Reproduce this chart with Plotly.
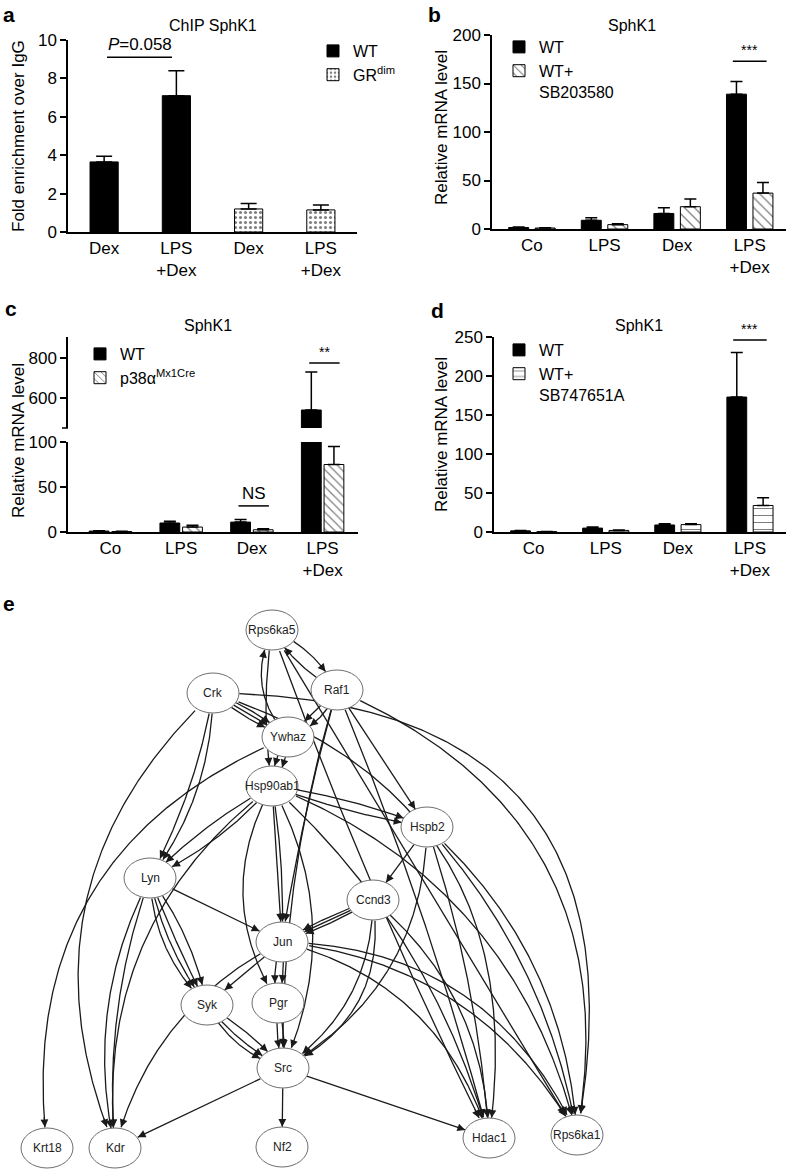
import numpy as np
import plotly.graph_objects as go

W, H = 788, 1169
FONT = "Liberation Sans, Arial, sans-serif"

# ---- panel a: ChIP SphK1 ----
a_labels = ["Dex", "LPS<br>+Dex", "Dex", "LPS<br>+Dex"]
a_wt = [3.65, 7.1]
a_wt_err = [0.3, 1.3]
a_grdim = [1.2, 1.15]
a_grdim_err = [0.28, 0.25]

# ---- panels b-d: SphK1 mRNA ----
conds = ["Co", "LPS", "Dex", "LPS<br>+Dex"]
b_wt = [1.5, 9, 16, 139]
b_wt_err = [0.5, 2.5, 6, 13]
b_sb = [1, 4.5, 23, 37]
b_sb_err = [0.3, 0.8, 8, 11]

c_wt = [1, 10, 11, 540]
c_wt_err = [0.4, 2, 3, 190]
c_p38 = [0.5, 5.5, 2.5, 75]
c_p38_err = [0.3, 2, 1, 20]

d_wt = [1.5, 5, 9, 173]
d_wt_err = [0.5, 1.5, 1.5, 57]
d_sb = [0.5, 2, 9.5, 34]
d_sb_err = [0.2, 0.5, 1, 10]

# ---- panel e: network ----
nodes = ["Rps6ka5", "Crk", "Raf1", "Ywhaz", "Hsp90ab1", "Hspb2", "Lyn", "Ccnd3",
         "Jun", "Syk", "Pgr", "Src", "Krt18", "Kdr", "Nf2", "Hdac1", "Rps6ka1"]
node_x = [272, 213, 337, 288, 272, 427, 150, 373, 282, 207, 278, 283, 47, 115, 282, 489, 577]
node_y = [630, 693, 690, 737, 786, 827, 878, 900, 942, 1005, 1003, 1068, 1148, 1148, 1147, 1138, 1135]
edges = [
    ("Crk", "Ywhaz", 0), ("Crk", "Ywhaz", 4), ("Crk", "Ywhaz", -4),
    ("Crk", "Lyn", 8), ("Crk", "Lyn", 16), ("Crk", "Kdr", -80),
    ("Crk", "Rps6ka1", 170), ("Crk", "Hdac1", 110),
    ("Ywhaz", "Rps6ka5", 18), ("Ywhaz", "Krt18", -90),
    ("Ywhaz", "Hsp90ab1", 4), ("Ywhaz", "Hsp90ab1", -4),
    ("Rps6ka5", "Hsp90ab1", -6), ("Raf1", "Rps6ka5", 6), ("Rps6ka5", "Raf1", 8),
    ("Raf1", "Ywhaz", 0), ("Raf1", "Ywhaz", 8), ("Raf1", "Rps6ka1", 100),
    ("Raf1", "Hspb2", 0), ("Raf1", "Jun", -4), ("Raf1", "Src", -15), ("Raf1", "Hdac1", 8),
    ("Rps6ka5", "Hdac1", -8), ("Rps6ka5", "Rps6ka1", 0),
    ("Hsp90ab1", "Lyn", 8), ("Hsp90ab1", "Lyn", -6), ("Hsp90ab1", "Kdr", -55),
    ("Hsp90ab1", "Hspb2", 5), ("Hsp90ab1", "Hspb2", -4),
    ("Hsp90ab1", "Hdac1", 30), ("Hsp90ab1", "Rps6ka1", 60),
    ("Hsp90ab1", "Jun", 0), ("Hsp90ab1", "Jun", 4),
    ("Hsp90ab1", "Pgr", -32), ("Hsp90ab1", "Src", 35),
    ("Hspb2", "Ccnd3", 0), ("Hspb2", "Src", 40), ("Hspb2", "Hdac1", 10),
    ("Hspb2", "Rps6ka1", 25), ("Hspb2", "Rps6ka1", 35),
    ("Lyn", "Jun", 0), ("Lyn", "Syk", -14), ("Lyn", "Syk", -8), ("Lyn", "Syk", -2),
    ("Lyn", "Syk", 8), ("Lyn", "Kdr", -15), ("Lyn", "Kdr", -25),
    ("Ccnd3", "Jun", 0), ("Ccnd3", "Jun", 3), ("Ccnd3", "Jun", -3),
    ("Ccnd3", "Src", 25), ("Ccnd3", "Src", 35), ("Ccnd3", "Hdac1", 30),
    ("Jun", "Syk", 0), ("Jun", "Pgr", -5), ("Jun", "Pgr", 3), ("Jun", "Kdr", -30),
    ("Jun", "Hdac1", 40), ("Jun", "Rps6ka1", 45), ("Jun", "Rps6ka1", 55),
    ("Syk", "Src", -10), ("Syk", "Src", -5), ("Syk", "Src", 4),
    ("Pgr", "Src", 3), ("Pgr", "Src", -3),
    ("Src", "Kdr", 0), ("Src", "Nf2", 0), ("Src", "Hdac1", 0),
]


def px(v):
    return v / W


def py(v):
    return 1 - v / H


tick_font = dict(family=FONT, size=17, color="black")


def xax(left, right, rng, labels, anchor):
    return dict(domain=[px(left), px(right)], range=rng, anchor=anchor,
                tickvals=list(range(len(labels))), ticktext=labels,
                showline=True, linecolor="black", linewidth=1.5,
                ticks="", showgrid=False, zeroline=False, tickfont=tick_font, fixedrange=True)


def yax(top, bottom, rng, anchor, **kw):
    d = dict(domain=[py(bottom), py(top)], range=rng, anchor=anchor,
             showline=True, linecolor="black", linewidth=1.5,
             ticks="outside", ticklen=6, tickwidth=1.5, tickcolor="black",
             showgrid=False, zeroline=False, tickfont=tick_font, fixedrange=True)
    d.update(kw)
    return d


def err(vals, w=6):
    return dict(type="data", symmetric=False, array=vals, arrayminus=[0] * len(vals),
                color="black", thickness=1.5, width=w)


fig = go.Figure()
solid = dict(color="black", line=dict(color="black", width=1))


def patt(shape, size, sol):
    return dict(color="white", line=dict(color="black", width=1),
                pattern=dict(shape=shape, fgcolor="black", bgcolor="white",
                             size=size, solidity=sol, fillmode="overlay"))


# panel a
fig.add_trace(go.Bar(x=[0, 1], y=a_wt, width=0.39, offset=-0.195, marker=solid,
                     error_y=err(a_wt_err, 8), name="WT",
                     xaxis="x", yaxis="y", legend="legend"))
fig.add_trace(go.Bar(x=[2, 3], y=a_grdim, width=0.39, offset=-0.195, marker=patt(".", 5, 0.3),
                     error_y=err(a_grdim_err, 8), name="GR<sup>dim</sup>",
                     xaxis="x", yaxis="y", legend="legend"))

# grouped panels b, c, d
bw, gap = 0.275, 0.09
off_wt = -bw - gap / 2
off_tr = gap / 2
ctr_wt = off_wt + bw / 2
ctr_tr = off_tr + bw / 2
xs = list(range(4))

fig.add_trace(go.Bar(x=xs, y=b_wt, width=bw, offset=off_wt, marker=solid, error_y=err(b_wt_err),
                     name="WT", xaxis="x2", yaxis="y2", legend="legend2"))
fig.add_trace(go.Bar(x=xs, y=b_sb, width=bw, offset=off_tr, marker=patt("\\", 7, 0.18),
                     error_y=err(b_sb_err), name="WT+<br>SB203580",
                     xaxis="x2", yaxis="y2", legend="legend2"))

cw, cgap = 0.28, 0.04
fig.add_trace(go.Bar(x=xs, y=c_wt, width=cw, offset=-cw - cgap / 2, marker=solid,
                     error_y=err(c_wt_err), name="WT", xaxis="x3", yaxis="y3", legend="legend3"))
fig.add_trace(go.Bar(x=xs, y=c_p38, width=cw, offset=cgap / 2, marker=patt("\\", 6, 0.2),
                     error_y=err(c_p38_err), name="p38α<sup>Mx1Cre</sup>",
                     xaxis="x3", yaxis="y3", legend="legend3"))
fig.add_trace(go.Bar(x=xs, y=c_wt, width=cw, offset=-cw - cgap / 2, marker=solid,
                     error_y=err(c_wt_err), showlegend=False, xaxis="x3", yaxis="y6"))

fig.add_trace(go.Bar(x=xs, y=d_wt, width=bw, offset=off_wt, marker=solid, error_y=err(d_wt_err),
                     name="WT", xaxis="x4", yaxis="y4", legend="legend4"))
fig.add_trace(go.Bar(x=xs, y=d_sb, width=bw, offset=off_tr, marker=patt("-", 7, 0.15),
                     error_y=err(d_sb_err), name="WT+<br>SB747651A",
                     xaxis="x4", yaxis="y4", legend="legend4"))

# ---- network edges ----
pos = {n: np.array([x, y], float) for n, x, y in zip(nodes, node_x, node_y)}
RX, RY = 26, 20


def inside(p, c):
    return ((p[0] - c[0]) / RX) ** 2 + ((p[1] - c[1]) / RY) ** 2 < 1


ex, ey, arrows = [], [], []
for s, t, bend in edges:
    p0, p2 = pos[s], pos[t]
    d = p2 - p0
    nv = np.array([d[1], -d[0]]) / np.hypot(*d)
    c = (p0 + p2) / 2 + 2 * bend * nv
    tt = np.linspace(0, 1, 200)[:, None]
    pts = (1 - tt) ** 2 * p0 + 2 * (1 - tt) * tt * c + tt ** 2 * p2
    keep = [i for i, p in enumerate(pts) if not inside(p, p0) and not inside(p, p2)]
    seg = pts[keep[0]:keep[-1] + 1]
    ex += list(seg[:, 0]) + [None]
    ey += list(seg[:, 1]) + [None]
    tip = seg[-1]
    dist = np.hypot(*(seg - tip).T)
    j = np.where(dist >= 9)[0][-1]
    arrows.append((tip, seg[j]))

fig.add_trace(go.Scatter(x=ex, y=ey, mode="lines", line=dict(color="#1a1a1a", width=1.3),
                         hoverinfo="skip", showlegend=False, xaxis="x5", yaxis="y5"))

shapes, annots = [], []
for tip, tail in arrows:
    annots.append(dict(x=tip[0], y=tip[1], ax=tail[0], ay=tail[1], xref="x5", yref="y5",
                       axref="x5", ayref="y5", text="", showarrow=True, arrowhead=2,
                       arrowsize=1.3, arrowwidth=1.2, arrowcolor="#1a1a1a", standoff=0))
for n in nodes:
    cx, cy = pos[n]
    shapes.append(dict(type="circle", xref="x5", yref="y5", x0=cx - RX, x1=cx + RX,
                       y0=cy - RY, y1=cy + RY, fillcolor="white",
                       line=dict(color="#6e6e6e", width=1)))
    annots.append(dict(x=cx, y=cy, xref="x5", yref="y5", text=n, showarrow=False,
                       font=dict(family="Liberation Sans Narrow, Liberation Sans, Arial",
                                 size=12, color="#222")))

# broken-axis marker at the bottom of the upper segment of c
shapes.append(dict(type="line", xref="paper", yref="paper", x0=px(62), x1=px(68),
                   y0=py(428), y1=py(428), line=dict(color="black", width=1.5)))


# ---- significance marks ----
def bracket(xref, yref, x0, x1, y, label, size=14):
    shapes.append(dict(type="line", xref=xref, yref=yref, x0=x0, x1=x1, y0=y, y1=y,
                       line=dict(color="black", width=1.5)))
    annots.append(dict(x=(x0 + x1) / 2, y=y, xref=xref, yref=yref, text=label,
                       showarrow=False, xanchor="center", yanchor="bottom", yshift=1,
                       font=dict(family=FONT, size=size, color="black")))


bracket("x", "y", 0.04, 0.94, 9.1, "<i>P</i>=0.058", size=17)
bracket("x2", "y2", 3 + ctr_wt - 0.05, 3 + ctr_tr + 0.05, 173, "***")
bracket("x3", "y6", 3 - cw / 2 - 0.05, 3 + cw / 2 + 0.1, 775, "**")
bracket("x3", "y3", 2 - cw / 2 - 0.05, 2 + cw / 2 + 0.1, 29, "NS", size=17)
bracket("x4", "y4", 3 + ctr_wt - 0.05, 3 + ctr_tr + 0.05, 246, "***")

# titles, axis titles, panel letters
for x, y, t in [(213, 25, "ChIP SphK1"), (632, 25, "SphK1"), (208, 325, "SphK1"), (639, 325, "SphK1")]:
    annots.append(dict(x=px(x), y=py(y), xref="paper", yref="paper", text=t, showarrow=False,
                       xanchor="center", yanchor="middle",
                       font=dict(family=FONT, size=16, color="black")))
for x, y, t in [(18, 136, "Fold enrichment over IgG"), (441, 128, "Relative mRNA level"),
                (18, 441, "Relative mRNA level"), (441, 435, "Relative mRNA level")]:
    annots.append(dict(x=px(x), y=py(y), xref="paper", yref="paper", text=t, showarrow=False,
                       textangle=-90, xanchor="center", yanchor="middle",
                       font=dict(family=FONT, size=17, color="black")))
for x, y, t in [(9, 15, "a"), (435, 15, "b"), (11, 308, "c"), (437, 310, "d"), (9, 603, "e")]:
    annots.append(dict(x=px(x), y=py(y), xref="paper", yref="paper", text="<b>%s</b>" % t,
                       showarrow=False, xanchor="center", yanchor="middle",
                       font=dict(family=FONT, size=21, color="black")))

leg = dict(font=dict(family=FONT, size=16, color="black"), bgcolor="rgba(0,0,0,0)",
           xanchor="left", yanchor="top", tracegroupgap=0, valign="top", itemclick=False)

fig.update_layout(
    width=W, height=H, autosize=False, template="none",
    margin=dict(l=0, r=0, t=0, b=0), paper_bgcolor="white", plot_bgcolor="white",
    barmode="overlay", showlegend=True,
    xaxis=xax(68, 357, [-0.5, 3.5], a_labels, "y"),
    yaxis=yax(40, 232, [0, 10], "x", dtick=2),
    xaxis2=xax(492, 786, [-0.55, 3.5], conds, "y2"),
    yaxis2=yax(35, 229, [0, 200], "x2", dtick=50),
    xaxis3=xax(68, 358, [-0.6, 3.5], conds, "y3"),
    yaxis3=yax(442, 532, [0, 100], "x3", dtick=50),
    yaxis6=yax(337, 428, [450, 905], "x3", tickvals=[600, 800]),
    xaxis4=xax(494, 786, [-0.55, 3.5], conds, "y4"),
    yaxis4=yax(337, 532, [0, 250], "x4", dtick=50),
    xaxis5=dict(domain=[0, 1], range=[0, W], visible=False, anchor="y5", fixedrange=True),
    yaxis5=dict(domain=[0, py(575)], range=[H, 575], visible=False, anchor="x5", fixedrange=True),
    legend=dict(leg, x=px(313), y=py(34)),
    legend2=dict(leg, x=px(499), y=py(30)),
    legend3=dict(leg, x=px(80), y=py(337)),
    legend4=dict(leg, x=px(499), y=py(333)),
    shapes=shapes, annotations=annots,
)

fig.write_html("out.html", config={"displayModeBar": False},
               post_script="document.body.style.margin='0';")
